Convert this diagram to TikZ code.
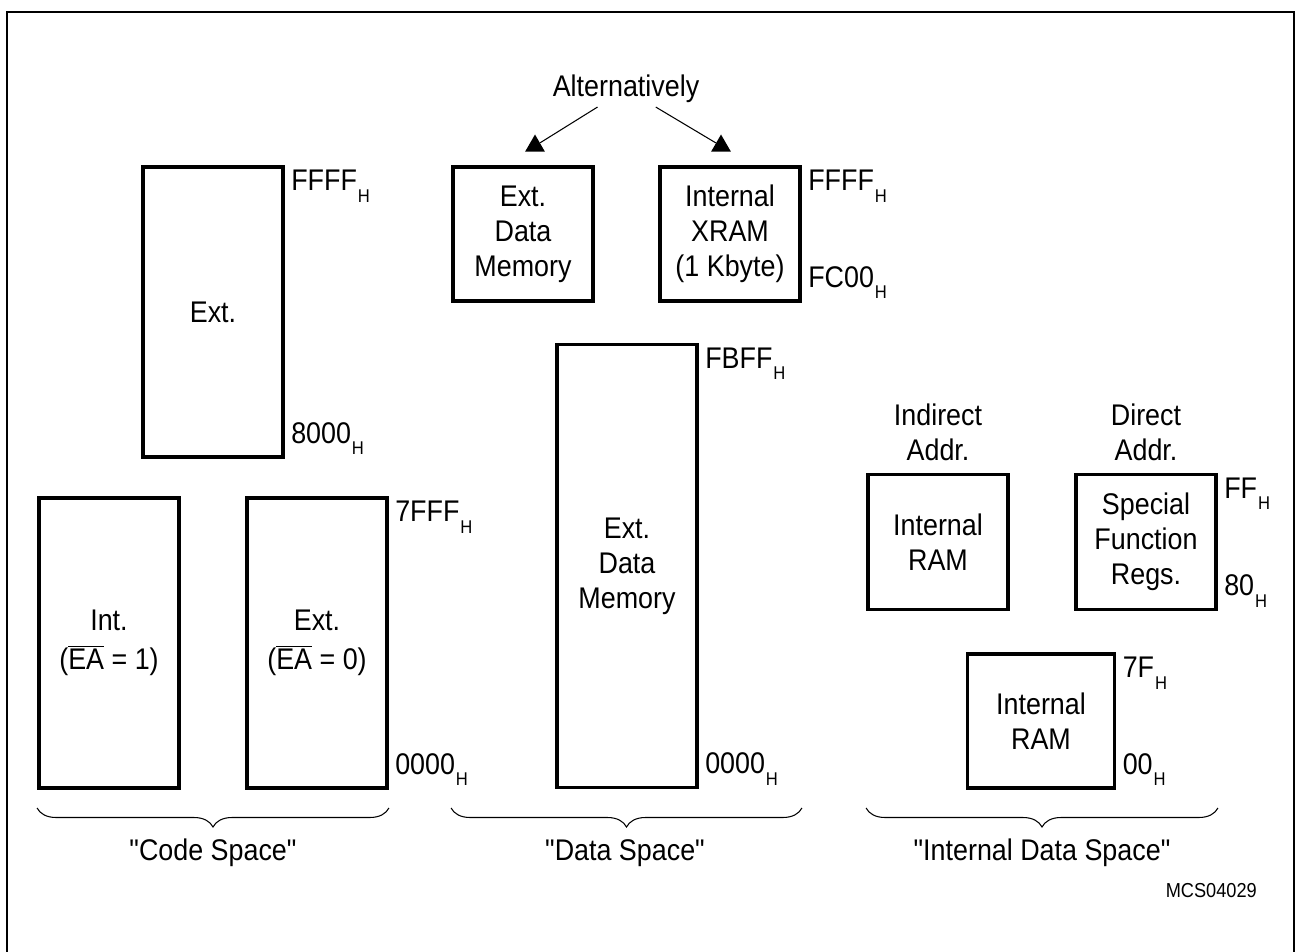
\documentclass[tikz,border=0pt]{standalone}
\usepackage{fontspec}
\setmainfont{Liberation Sans}[FakeStretch=0.9,Ligatures=TeXOff]
\usetikzlibrary{positioning,shapes.geometric,decorations.pathreplacing}

\newcommand{\hexaddr}[1]{#1\kern0.5pt\raisebox{-6.5pt}{\fontsize{10.5pt}{11pt}\selectfont H}}

\begin{document}
\begin{tikzpicture}[x=0.02cm,y=-0.02cm,font=\fontsize{17pt}{20pt}\selectfont,
    membox/.style={draw,line width=2.2pt,align=center,minimum width=2.8cm},
    hi/.style={anchor=north west,inner sep=0pt,xshift=0.12cm,yshift=-0.1cm},
    lo/.style={anchor=south west,inner sep=0pt,xshift=0.12cm,yshift=0.08cm},
    spacebrace/.style={decorate,decoration={brace,mirror,amplitude=0.38cm},line width=0.6pt},
    alttri/.style={regular polygon,regular polygon sides=3,fill,inner sep=0pt,minimum size=0.46cm}]
      \pgfmathsetmacro{\tall}{5.8}
      \pgfmathsetmacro{\small}{2.68}

      \useasboundingbox (0,0) rectangle (1297,952);
      \draw[line width=1.3pt] (7,952) -- (7,12) -- (1294,12) -- (1294,952);

      \node[membox,minimum height=\tall cm] (extcode) at (213,312) {Ext.};
      \node[membox,minimum height=\tall cm] (intcode) at (109,643) {Int.\\[2pt]($\overline{\mbox{EA}}$ = 1)};
      \node[membox,minimum height=\tall cm] (extcodeb) at (317,643) {Ext.\\[2pt]($\overline{\mbox{EA}}$ = 0)};

      \node[membox,minimum height=\small cm] (extdata) at (523,234) {Ext.\\Data\\Memory};
      \node[membox,minimum height=\small cm] (xram) at (730,234) {Internal\\XRAM\\(1 Kbyte)};
      \node[membox,minimum height=8.86cm] (bigdata) at (627,566) {Ext.\\Data\\Memory};

      \node[membox,minimum height=2.7cm] (iramhi) at (938,542) {Internal\\RAM};
      \node[membox,minimum height=2.7cm] (sfr) at (1146,542) {Special\\Function\\Regs.};
      \node[membox,minimum height=\small cm,minimum width=2.94cm] (iramlo) at (1041,721) {Internal\\RAM};

      \node[hi] (extcodetop) at (extcode.north east) {\hexaddr{FFFF}};
      \node[lo] (extcodebot) at (extcode.south east) {\hexaddr{8000}};
      \node[hi] (codetop) at (extcodeb.north east) {\hexaddr{7FFF}};
      \node[lo] (codebot) at (extcodeb.south east) {\hexaddr{0000}};
      \node[hi] (xramtop) at (xram.north east) {\hexaddr{FFFF}};
      \node[lo] (xrambot) at (xram.south east) {\hexaddr{FC00}};
      \node[hi] (datatop) at (bigdata.north east) {\hexaddr{FBFF}};
      \node[lo] (databot) at (bigdata.south east) {\hexaddr{0000}};
      \node[hi] (sfrtop) at (sfr.north east) {\hexaddr{FF}};
      \node[lo] (sfrbot) at (sfr.south east) {\hexaddr{80}};
      \node[hi] (iramtop) at (iramlo.north east) {\hexaddr{7F}};
      \node[lo] (irambot) at (iramlo.south east) {\hexaddr{00}};

      \node[align=center,inner sep=0pt,above=0.22cm of iramhi] (indlbl) {Indirect\\Addr.};
      \node[align=center,inner sep=0pt,above=0.22cm of sfr] (dirlbl) {Direct\\Addr.};

      \node[anchor=base,inner sep=2pt] (alt) at (626,97) {Alternatively};
      \node[alttri] (triL) at (535,146) {};
      \node[alttri] (triR) at (721,146) {};
      \draw[line width=0.6pt] (alt) -- (triL);
      \draw[line width=0.6pt] (alt) -- (triR);

      \coordinate (bracey) at (0,808);
      \draw[spacebrace] (intcode.west |- bracey) -- (extcodeb.east |- bracey);
      \draw[spacebrace] (extdata.west |- bracey) -- (xram.east |- bracey);
      \draw[spacebrace] (iramhi.west |- bracey) -- (sfr.east |- bracey);

      \node[anchor=base] (codelbl) at (213,860) {"Code Space"};
      \node[anchor=base] (datalbl) at (625,860) {"Data Space"};
      \node[anchor=base] (intlbl) at (1042,860) {"Internal Data Space"};
      \node[anchor=base east,font=\fontsize{11.5pt}{13pt}\selectfont] (figid) at (1263,897) {MCS04029};
    \end{tikzpicture}
\end{document}
